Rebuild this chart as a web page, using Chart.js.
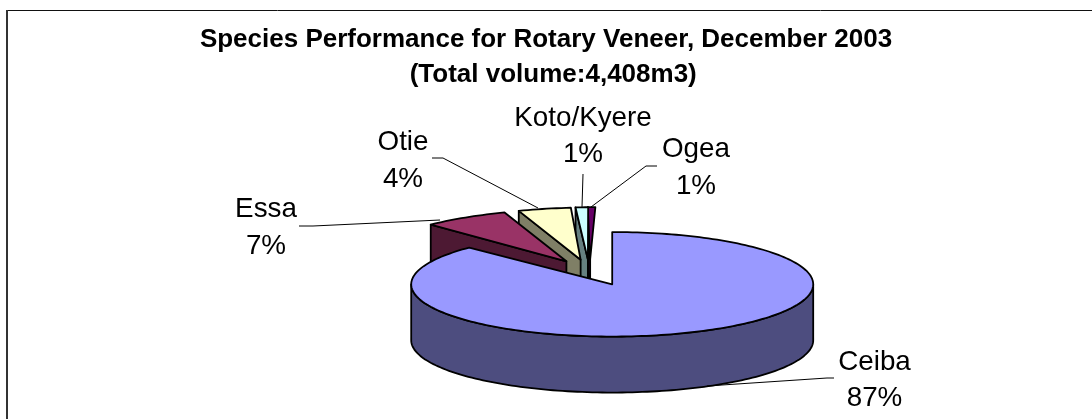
<!DOCTYPE html>
<html>
<head>
<meta charset="utf-8">
<style>html,body{margin:0;padding:0;background:#fff}canvas{display:block}</style>
<script src="https://cdn.jsdelivr.net/npm/chart.js@4"></script>
</head>
<body>
<canvas id="c" width="1092" height="419"></canvas>
<script>
const categories = ['Ceiba', 'Essa', 'Otie', 'Koto/Kyere', 'Ogea'];
const shares = [87.4, 6.8, 4.2, 1.0, 0.6];
const titleLines = ['Species Performance for Rotary Veneer, December 2003', '  (Total volume:4,408m3)'];

const topColors = ['#9999FF', '#993366', '#FFFFCC', '#CCFFFF', '#660066'];
const wallColors = ['#4D4D7F', '#4D1933', '#7F7F66', '#668080', '#330033'];
const explode = [55, 45, 45, 45, 45];
const shears = [0, -0.2, -0.2, -0.15, -0.1];

const SQUASH = 0.26, DEPTH = 56, SHIFT_X = 45;
const FONT = '27.8px "Liberation Sans", Arial, sans-serif';
const labelSpots = [
  {x: 874.5, y: 370, y2: 406}, {x: 266, y: 217, y2: 254}, {x: 403, y: 150, y2: 187},
  {x: 583, y: 126, y2: 162}, {x: 696, y: 157, y2: 194}
];
const leaders = [
  [[834,378],[827,378],[707,386]],
  [[299,226],[313,226],[440,220]],
  [[432,158],[443,158],[538,208]],
  [[583,174],[582,207]],
  [[657,166],[646,166],[591,207]]
];

function projector(el, i) {
  const mid = (el.startAngle + el.endAngle) / 2;
  const d = explode[i];
  const ax = el.x + SHIFT_X + Math.cos(mid) * d;
  const ay = el.y + Math.sin(mid) * d * SQUASH;
  const sh = shears[i];
  const R = el.outerRadius;
  return {
    ax, ay,
    at(a) {
      const ly = R * Math.sin(a) * SQUASH;
      return [ax + R * Math.cos(a) + sh * ly, ay + ly];
    }
  };
}
function poly(ctx, pts, fill) {
  ctx.beginPath();
  pts.forEach((p, k) => k ? ctx.lineTo(p[0], p[1]) : ctx.moveTo(p[0], p[1]));
  ctx.closePath();
  ctx.fillStyle = fill;
  ctx.fill();
  ctx.stroke();
}
function arcPts(p, a0, a1) {
  const n = Math.max(4, Math.ceil(Math.abs(a1 - a0) * 40));
  const out = [];
  for (let k = 0; k <= n; k++) out.push(p.at(a0 + (a1 - a0) * k / n));
  return out;
}

const pie3d = {
  id: 'pie3d',
  beforeDatasetsDraw(chart) {
    const ctx = chart.ctx;
    const arcs = chart.getDatasetMeta(0).data;
    ctx.save();
    ctx.lineWidth = 1.8;
    ctx.strokeStyle = '#000';
    ctx.lineJoin = 'round';
    for (let i = arcs.length - 1; i >= 0; i--) {
      const el = arcs[i], p = projector(el, i);
      if (i > 0) {
        const c = p.at(el.startAngle);
        poly(ctx, [[p.ax, p.ay], c, [c[0], c[1] + DEPTH], [p.ax, p.ay + DEPTH]], wallColors[i]);
      } else {
        const rim = arcPts(p, 0, Math.PI);
        const low = rim.slice().reverse().map(q => [q[0], q[1] + DEPTH]);
        poly(ctx, rim.concat(low), wallColors[i]);
      }
      poly(ctx, [[p.ax, p.ay]].concat(arcPts(p, el.startAngle, el.endAngle)), topColors[i]);
    }
    ctx.restore();
    return false;
  },
  afterDraw(chart) {
    const ctx = chart.ctx;
    ctx.save();
    // frame of the pasted chart: only its top and left edges are in the picture
    ctx.strokeStyle = '#111';
    ctx.lineWidth = 1;
    ctx.beginPath(); ctx.moveTo(6, 10.5); ctx.lineTo(1092, 10.5); ctx.stroke();
    ctx.lineWidth = 2;
    ctx.strokeStyle = '#333';
    ctx.beginPath(); ctx.moveTo(7, 10); ctx.lineTo(7, 419); ctx.stroke();
    // leader lines
    ctx.strokeStyle = '#000';
    ctx.lineWidth = 1;
    leaders.forEach(l => {
      ctx.beginPath();
      l.forEach((q, k) => k ? ctx.lineTo(q[0], q[1]) : ctx.moveTo(q[0], q[1]));
      ctx.stroke();
    });
    // labels
    const total = shares.reduce((a, b) => a + b, 0);
    ctx.fillStyle = '#000';
    ctx.font = FONT;
    ctx.textAlign = 'center';
    ctx.textBaseline = 'alphabetic';
    categories.forEach((name, i) => {
      const s = labelSpots[i];
      ctx.fillText(name, s.x, s.y);
      ctx.fillText(Math.round(shares[i] / total * 100) + '%', s.x, s.y2);
    });
    ctx.restore();
  }
};

new Chart(document.getElementById('c'), {
  type: 'pie',
  data: {
    labels: categories,
    datasets: [{ data: shares, backgroundColor: topColors, radius: 201, borderWidth: 0 }]
  },
  options: {
    responsive: false,
    animation: false,
    rotation: 0,
    layout: { padding: 0 },
    plugins: {
      legend: { display: false },
      tooltip: { enabled: false },
      title: {
        display: true,
        text: titleLines,
        color: '#000',
        font: { family: '"Liberation Sans", Arial, sans-serif', size: 26, weight: 'bold', lineHeight: 1.35 },
        padding: { top: 22, bottom: 31 }
      }
    }
  },
  plugins: [pie3d]
});
</script>
</body>
</html>
